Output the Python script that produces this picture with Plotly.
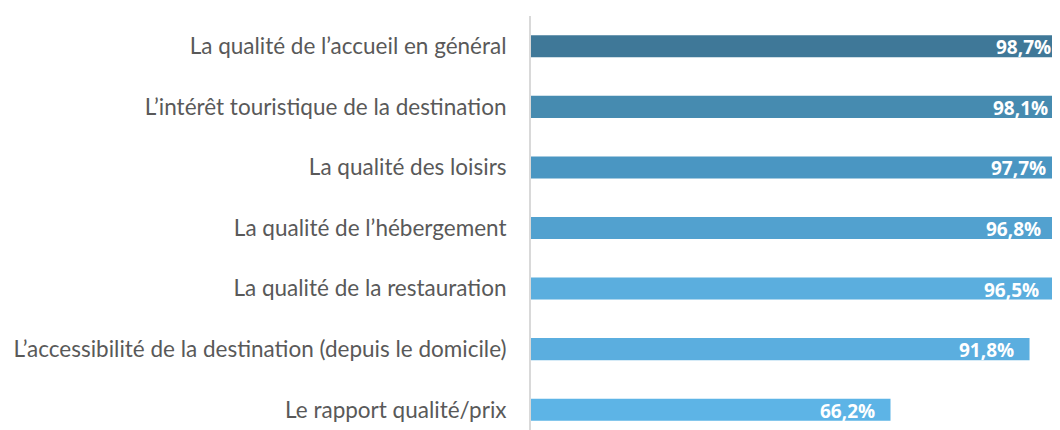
import plotly.graph_objects as go

categories = [
    "La qualité de l’accueil en général",
    "L’intérêt touristique de la destination",
    "La qualité des loisirs",
    "La qualité de l’hébergement",
    "La qualité de la restauration",
    "L’accessibilité de la destination (depuis le domicile)",
    "Le rapport qualité/prix",
]
values = [98.7, 98.1, 97.7, 96.8, 96.5, 91.8, 66.2]
colors = ["#3F7898", "#468BB0", "#4A96C2", "#52A1CF", "#5BAEDE", "#5BAEDF", "#5DB4E6"]
labels = [f"{v:.1f}".replace(".", ",") + "%" for v in values]

fig = go.Figure(go.Bar(
    x=values, y=categories, orientation="h",
    marker=dict(color=colors, line=dict(width=0)),
    hoverinfo="skip", cliponaxis=True,
))
for v, c, t in zip(values, categories, labels):
    fig.add_annotation(
        x=v, y=c, xref="x", yref="y", text=t, showarrow=False,
        xanchor="right", yanchor="middle", xshift=-14, yshift=-1,
        font=dict(family="Open Sans", size=19, color="white", weight="bold"),
    )
fig.update_layout(
    width=1059, height=432,
    margin=dict(l=523, r=0, t=8, b=0, pad=0, autoexpand=False),
    plot_bgcolor="white", paper_bgcolor="white",
    bargap=0.636, showlegend=False,
)
fig.update_xaxes(range=[0, 98.7], visible=False, showgrid=False, automargin=False)
fig.update_yaxes(
    range=[6.5, -0.5], type="category", automargin=False,
    showline=True, linecolor="#D9D9D9", linewidth=2,
    showgrid=False, ticks="", ticklabelstandoff=18,
    tickfont=dict(family="Lato", size=22.5, color="#595959"),
)
fig.write_html("out.html")
